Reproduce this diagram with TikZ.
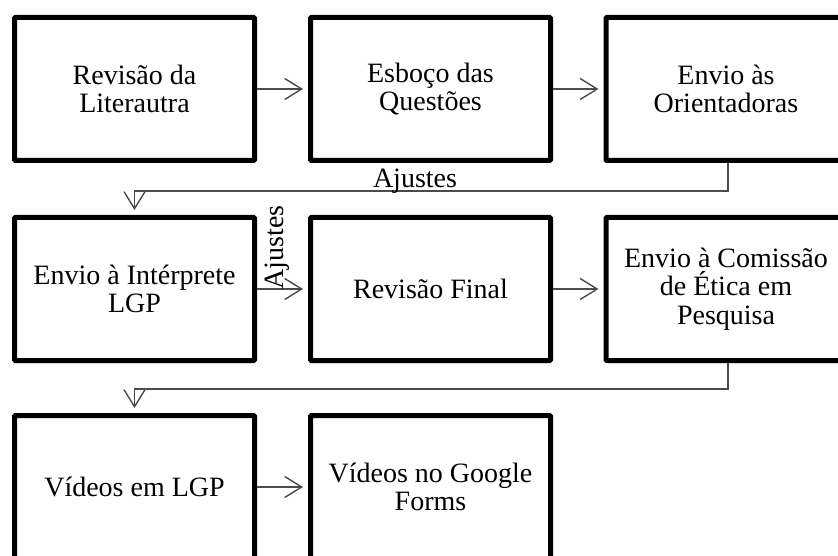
\documentclass[tikz,border=0pt]{standalone}
\usepackage{fontspec}
\setmainfont{Liberation Serif}
\usetikzlibrary{arrows.meta,calc}
\definecolor{conngray}{RGB}{75,75,75}
\tikzset{
  stepbox/.style={draw=black, line width=5pt, rounded corners=1pt, fill=white,
    minimum width=240pt, minimum height=143pt, inner sep=0pt, outer sep=2.5pt,
    align=center, font=\fontsize{28}{28.5}\selectfont},
  conn/.style={draw=conngray, line width=1.4pt,
    -{Straight Barb[length=17pt,width=21pt,line width=1.4pt]}, shorten >=5pt},
  lbl/.style={font=\fontsize{28}{28.5}\selectfont, inner sep=0pt}
}
\begin{document}
\begin{tikzpicture}[x=1pt,y=1pt]
\clip (0,0) rectangle (838,-556);
\useasboundingbox (0,0) rectangle (838,-556);
% row 1
\node[stepbox] (b1) at (134.5,-89) {Revisão da\\Literautra};
\node[stepbox] (b2) at (430.5,-89) {Esboço das\\Questões};
\node[stepbox] (b3) at (726,-89) {Envio às\\Orientadoras};
% row 2
\node[stepbox] (b4) at (134.5,-289) {Envio à Intérprete\\LGP};
\node[stepbox] (b5) at (430.5,-289) {Revisão Final};
\node[stepbox] (b6) at (726,-289) {Envio à Comissão\\de Ética em\\Pesquisa};
% row 3
\node[stepbox] (b7) at (134.5,-487) {Vídeos em LGP};
\node[stepbox] (b8) at (430.5,-487) {Vídeos no Google\\Forms};
% connectors
\draw[conn] (b1.east) -- (b2.west);
\draw[conn] (b2.east) -- (b3.west);
\draw[conn] (b4.east) -- (b5.west);
\draw[conn] (b5.east) -- (b6.west);
\draw[conn] (b7.east) -- (b8.west);
\draw[conn] ([xshift=2pt]b3.south) |- ([yshift=24pt]b4.north) -- (b4.north);
\draw[conn] ([xshift=2pt]b6.south) |- ([yshift=24pt]b7.north) -- (b7.north);
% labels
\node[lbl, anchor=base] (aj1) at (415,-188) {Ajustes};
\node[lbl, rotate=90, anchor=base] (aj2) at (283,-247.5) {Ajustes};
\end{tikzpicture}
\end{document}
